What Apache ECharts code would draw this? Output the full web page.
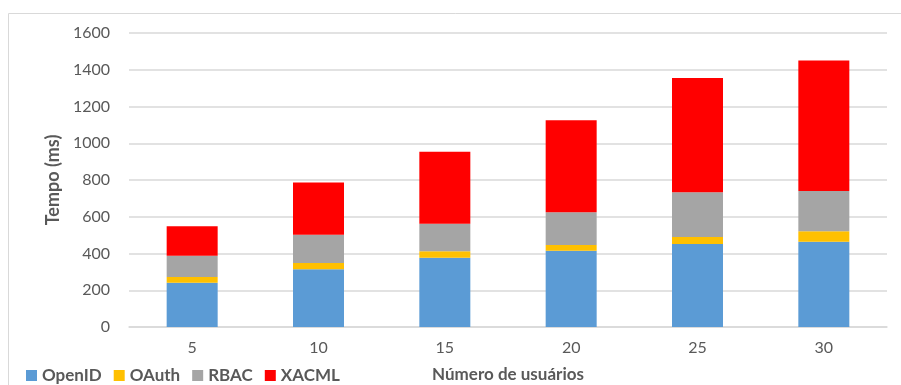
<!DOCTYPE html>
<html>
<head>
<meta charset="utf-8">
<script src="https://cdn.jsdelivr.net/npm/echarts@6/dist/echarts.min.js"></script>
<style>html,body{margin:0;padding:0;background:#fff;overflow:hidden}#c{width:901px;height:385px}</style>
</head>
<body>
<div id="c"></div>
<script>
const categories = ['5', '10', '15', '20', '25', '30'];
const seriesNames = ['OpenID', 'OAuth', 'RBAC', 'XACML'];
const openid = [241, 314, 377, 415, 452, 464];
const oauth = [31, 34, 35, 31, 38, 57];
const rbac = [116, 154, 150, 178, 243, 219];
const xacml = [160, 285, 392, 501, 622, 711];
const colors = ['#5B9BD5', '#FFC000', '#A5A5A5', '#FF0000'];
const yTicks = [0, 200, 400, 600, 800, 1000, 1200, 1400, 1600];

const FONT = 'Lato';
const values = [openid, oauth, rbac, xacml];
const chart = echarts.init(document.getElementById('c'), null, {renderer: 'canvas'});
chart.setOption({
  animation: false,
  textStyle: {fontFamily: FONT},
  graphic: [{
    type: 'rect', shape: {x: 8.5, y: 13.5, width: 900, height: 380},
    style: {fill: 'none', stroke: '#D9D9D9', lineWidth: 1}, silent: true
  }],
  legend: {
    left: 21, top: 362, itemWidth: 11, itemHeight: 11, itemGap: 12,
    icon: 'rect',
    textStyle: {fontFamily: FONT, fontSize: 17, fontWeight: 'bold', color: '#595959'},
    data: seriesNames
  },
  grid: {left: 129, right: 14, top: 33, bottom: 58, containLabel: false, outerBoundsMode: 'none'},
  xAxis: {
    type: 'category', data: categories,
    name: 'Número de usuários', nameLocation: 'middle', nameGap: 39,
    nameTextStyle: {fontFamily: FONT, fontSize: 17, fontWeight: 'bold', color: '#595959'},
    axisLine: {lineStyle: {color: '#D9D9D9', width: 1.5}},
    axisTick: {show: false},
    axisLabel: {fontFamily: FONT, fontSize: 16, color: '#595959', margin: 13}
  },
  yAxis: {
    type: 'value', min: yTicks[0], max: yTicks[yTicks.length - 1], interval: 200,
    name: 'Tempo (ms)', nameLocation: 'middle', nameGap: 64, nameRotate: 90,
    nameTextStyle: {fontFamily: FONT, fontSize: 18, fontWeight: 'bold', color: '#595959'},
    axisLine: {show: false}, axisTick: {show: false},
    axisLabel: {fontFamily: FONT, fontSize: 16, color: '#595959', margin: 19, formatter: v => String(v)},
    splitLine: {lineStyle: {color: '#D9D9D9', width: 1.5}}
  },
  series: seriesNames.map((n, i) => ({
    name: n, type: 'bar', stack: 'total', data: values[i], barWidth: 51,
    itemStyle: {color: colors[i]}
  }))
});
</script>
</body>
</html>
